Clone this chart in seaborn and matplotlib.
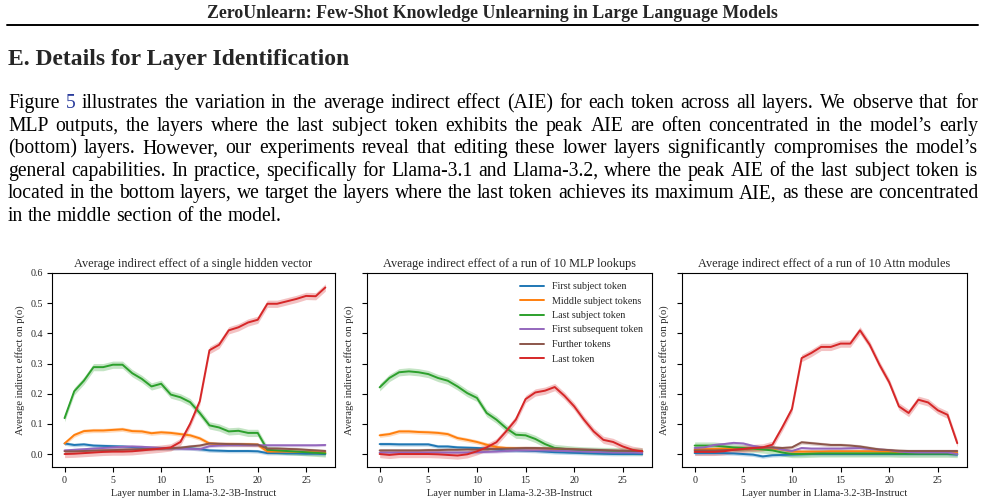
import numpy as np
import pandas as pd
import seaborn as sns
import matplotlib.pyplot as plt
from matplotlib.lines import Line2D

SERIF = ['Liberation Serif', 'DejaVu Serif']
W, H = 986, 504

layers = list(range(28))
tokens = ["First subject token", "Middle subject tokens", "Last subject token",
          "First subsequent token", "Further tokens", "Last token"]
colors = ["#1f77b4", "#ff7f0e", "#2ca02c", "#9467bd", "#8c564b", "#d62728"]
band = [0.006, 0.007, 0.012, 0.005, 0.006, 0.012]

# single hidden vector
blue1 = [0.035, 0.030, 0.032, 0.028, 0.027, 0.026, 0.025, 0.023, 0.021, 0.020, 0.020, 0.020, 0.020, 0.019, 0.016, 0.012, 0.011, 0.010, 0.010, 0.010, 0.009, 0.003, 0.003, 0.002, 0.002, 0.001, 0.001, 0.000]
orange1 = [0.035, 0.063, 0.076, 0.078, 0.078, 0.080, 0.082, 0.076, 0.075, 0.069, 0.072, 0.070, 0.066, 0.062, 0.052, 0.035, 0.033, 0.033, 0.032, 0.032, 0.031, 0.008, 0.008, 0.008, 0.007, 0.007, 0.006, 0.005]
green1 = [0.119, 0.208, 0.243, 0.288, 0.288, 0.296, 0.296, 0.268, 0.249, 0.224, 0.233, 0.197, 0.188, 0.172, 0.136, 0.095, 0.088, 0.075, 0.077, 0.070, 0.070, 0.014, 0.012, 0.010, 0.008, 0.006, 0.004, 0.002]
purple1 = [0.012, 0.014, 0.016, 0.018, 0.020, 0.022, 0.024, 0.025, 0.024, 0.022, 0.020, 0.019, 0.018, 0.017, 0.016, 0.026, 0.028, 0.029, 0.029, 0.029, 0.029, 0.029, 0.029, 0.029, 0.029, 0.029, 0.029, 0.030]
brown1 = [0.009, 0.009, 0.010, 0.011, 0.012, 0.013, 0.014, 0.015, 0.016, 0.017, 0.018, 0.019, 0.021, 0.025, 0.028, 0.035, 0.034, 0.033, 0.033, 0.032, 0.031, 0.018, 0.018, 0.017, 0.016, 0.014, 0.012, 0.010]
red1 = [0.000, 0.001, 0.003, 0.005, 0.007, 0.008, 0.008, 0.009, 0.012, 0.015, 0.018, 0.022, 0.040, 0.100, 0.175, 0.344, 0.362, 0.410, 0.420, 0.436, 0.445, 0.498, 0.498, 0.506, 0.514, 0.524, 0.523, 0.552]

# run of 10 MLP lookups
blue2 = [0.033, 0.033, 0.032, 0.032, 0.032, 0.032, 0.025, 0.025, 0.022, 0.021, 0.020, 0.018, 0.015, 0.012, 0.012, 0.011, 0.010, 0.008, 0.006, 0.005, 0.004, 0.003, 0.002, 0.001, 0.000, 0.000, 0.000, 0.000]
orange2 = [0.062, 0.066, 0.075, 0.075, 0.073, 0.072, 0.070, 0.066, 0.053, 0.047, 0.040, 0.031, 0.023, 0.020, 0.019, 0.019, 0.018, 0.018, 0.017, 0.016, 0.015, 0.012, 0.010, 0.009, 0.008, 0.008, 0.007, 0.007]
green2 = [0.221, 0.252, 0.271, 0.274, 0.271, 0.265, 0.252, 0.243, 0.224, 0.202, 0.186, 0.136, 0.114, 0.086, 0.064, 0.062, 0.050, 0.033, 0.020, 0.017, 0.014, 0.012, 0.011, 0.010, 0.010, 0.009, 0.009, 0.008]
purple2 = [0.005, 0.005, 0.005, 0.005, 0.005, 0.005, 0.005, 0.005, 0.005, 0.005, 0.006, 0.007, 0.008, 0.010, 0.012, 0.012, 0.012, 0.012, 0.011, 0.010, 0.009, 0.008, 0.007, 0.006, 0.005, 0.005, 0.005, 0.004]
brown2 = [0.012, 0.012, 0.012, 0.012, 0.012, 0.013, 0.013, 0.014, 0.014, 0.015, 0.015, 0.016, 0.017, 0.018, 0.019, 0.020, 0.020, 0.019, 0.018, 0.017, 0.016, 0.015, 0.014, 0.013, 0.012, 0.011, 0.010, 0.010]
red2 = [0.000, -0.003, 0.000, 0.000, 0.000, 0.000, -0.001, -0.003, -0.005, -0.001, 0.009, 0.022, 0.039, 0.075, 0.114, 0.182, 0.204, 0.210, 0.222, 0.193, 0.158, 0.114, 0.075, 0.047, 0.040, 0.025, 0.014, 0.009]

# run of 10 Attn modules
blue3 = [0.003, 0.003, 0.003, 0.003, 0.002, 0.000, -0.002, -0.008, -0.004, -0.003, -0.002, -0.001, 0.000, 0.000, 0.000, 0.000, 0.000, 0.000, 0.000, 0.000, 0.000, 0.000, 0.000, 0.000, 0.000, 0.000, 0.000, -0.002]
orange3 = [0.015, 0.016, 0.017, 0.018, 0.019, 0.019, 0.018, 0.020, 0.018, 0.015, 0.008, 0.008, 0.008, 0.008, 0.009, 0.009, 0.009, 0.009, 0.009, 0.008, 0.008, 0.006, 0.005, 0.005, 0.005, 0.005, 0.005, 0.004]
green3 = [0.028, 0.028, 0.028, 0.025, 0.022, 0.020, 0.018, 0.015, 0.012, 0.005, 0.000, 0.000, 0.001, 0.002, 0.002, 0.002, 0.002, 0.002, 0.002, 0.002, 0.002, 0.001, 0.001, 0.001, 0.001, 0.001, 0.001, 0.000]
purple3 = [0.020, 0.022, 0.030, 0.033, 0.037, 0.035, 0.027, 0.022, 0.022, 0.015, 0.010, 0.020, 0.018, 0.018, 0.018, 0.018, 0.019, 0.020, 0.017, 0.015, 0.013, 0.008, 0.006, 0.005, 0.005, 0.005, 0.005, 0.000]
brown3 = [0.012, 0.012, 0.012, 0.013, 0.014, 0.016, 0.020, 0.021, 0.022, 0.020, 0.022, 0.039, 0.036, 0.033, 0.030, 0.030, 0.028, 0.025, 0.020, 0.015, 0.013, 0.011, 0.010, 0.010, 0.010, 0.010, 0.010, 0.010]
red3 = [0.007, 0.007, 0.007, 0.009, 0.014, 0.017, 0.020, 0.022, 0.031, 0.088, 0.149, 0.318, 0.335, 0.355, 0.355, 0.366, 0.366, 0.410, 0.362, 0.296, 0.238, 0.158, 0.136, 0.180, 0.171, 0.145, 0.130, 0.036]

titles = ["Average indirect effect of a single hidden vector",
          "Average indirect effect of a run of 10 MLP lookups",
          "Average indirect effect of a run of 10 Attn modules"]
panels = [[blue1, orange1, green1, purple1, brown1, red1],
          [blue2, orange2, green2, purple2, brown2, red2],
          [blue3, orange3, green3, purple3, brown3, red3]]

header = "ZeroUnlearn: Few-Shot Knowledge Unlearning in Large Language Models"
section = "E. Details for Layer Identification"
paragraph = [
    "Figure 5 illustrates the variation in the average indirect effect (AIE) for each token across all layers. We observe that for",
    "MLP outputs, the layers where the last subject token exhibits the peak AIE are often concentrated in the model\u2019s early",
    "(bottom) layers. However, our experiments reveal that editing these lower layers significantly compromises the model\u2019s",
    "general capabilities. In practice, specifically for Llama-3.1 and Llama-3.2, where the peak AIE of the last subject token is",
    "located in the bottom layers, we target the layers where the last token achieves its maximum AIE, as these are concentrated",
    "in the middle section of the model.",
]

sns.set_style("ticks")
plt.rcParams['font.family'] = SERIF
plt.rcParams['axes.linewidth'] = 0.8

fig = plt.figure(figsize=(W / 100, H / 100), dpi=100)
renderer = fig.canvas.get_renderer()


def fy(px):
    return 1 - px / H


def fit(t, target):
    w = t.get_window_extent(renderer).width
    t.set_fontsize(t.get_fontsize() * target / w)


# page header
t = fig.text(492.5 / W, fy(18.5), header, ha='center', va='baseline', fontsize=12.5, fontweight='bold')
fit(t, 571)
fig.add_artist(Line2D([7 / W, 978 / W], [fy(25), fy(25)], lw=1.4, color='black'))
t = fig.text(8 / W, fy(65), section, ha='left', va='baseline', fontsize=15, fontweight='bold')
fit(t, 342)

# justified paragraph: pick a size so the longest line nearly fills the column
L, R = 8, 978
fs = 13.4
probe = [fig.text(0, 0, ln, fontsize=fs) for ln in paragraph[:-1]]
longest = max(p.get_window_extent(renderer).width for p in probe)
for p in probe:
    p.remove()
fs = fs * (R - L - 6) / longest

for i, line in enumerate(paragraph):
    y = fy(108 + 22.6 * i)
    words = line.split(' ')
    ts = [fig.text(0, y, w, fontsize=fs, va='baseline',
                   color='#2a3c9c' if (i == 0 and w == '5') else 'black') for w in words]
    widths = [tt.get_window_extent(renderer).width for tt in ts]
    if i == len(paragraph) - 1:
        gap = fs * 100 / 72 * 0.25
    else:
        gap = (R - L - sum(widths)) / (len(words) - 1)
    x = L
    for tt, w in zip(ts, widths):
        tt.set_x(x / W)
        x += w + gap

lefts = [52, 367, 682]
widths_ax = [283, 285, 285]
for k in range(3):
    ax = fig.add_axes([lefts[k] / W, 1 - 467 / H, widths_ax[k] / W, 194 / H])
    rows = []
    for tok, vals in zip(tokens, panels[k]):
        for l, v in zip(layers, vals):
            rows.append({"layer": l, "effect": v, "token": tok})
    df = pd.DataFrame(rows)
    for tok, vals, c, b in zip(tokens, panels[k], colors, band):
        v = np.array(vals)
        ax.fill_between(layers, v - b, v + b, color=c, alpha=0.28, lw=0)
    sns.lineplot(data=df, x="layer", y="effect", hue="token", hue_order=tokens,
                 palette=dict(zip(tokens, colors)), errorbar=None, linewidth=1.4,
                 legend=(k == 1), ax=ax)
    ax.set_ylim(-0.043, 0.6)
    ax.set_xlim(-1.3, 28.0)
    ax.set_yticks([0.0, 0.1, 0.2, 0.3, 0.4, 0.5, 0.6])
    ax.set_xticks([0, 5, 10, 15, 20, 25])
    if k == 0:
        ax.set_yticklabels(["0.0", "0.1", "0.2", "0.3", "0.4", "0.5", "0.6"])
    else:
        ax.set_yticklabels([])
    ax.tick_params(labelsize=7.2, length=3.5, width=0.8, color='black', pad=3)
    ax.set_title(titles[k], fontsize=8.8, pad=4)
    ax.set_xlabel("Layer number in Llama-3.2-3B-Instruct", fontsize=7.5, labelpad=3)
    ax.set_ylabel("Average indirect effect on p(o)", fontsize=7.6, labelpad=4 if k == 0 else 3)
    for s in ax.spines.values():
        s.set_color('black')
    if k == 1:
        ax.legend(frameon=False, loc='upper right', fontsize=7.2, handlelength=2.4,
                  labelspacing=0.55, borderaxespad=0.5, title=None)

fig.savefig("out.png", dpi=100)
